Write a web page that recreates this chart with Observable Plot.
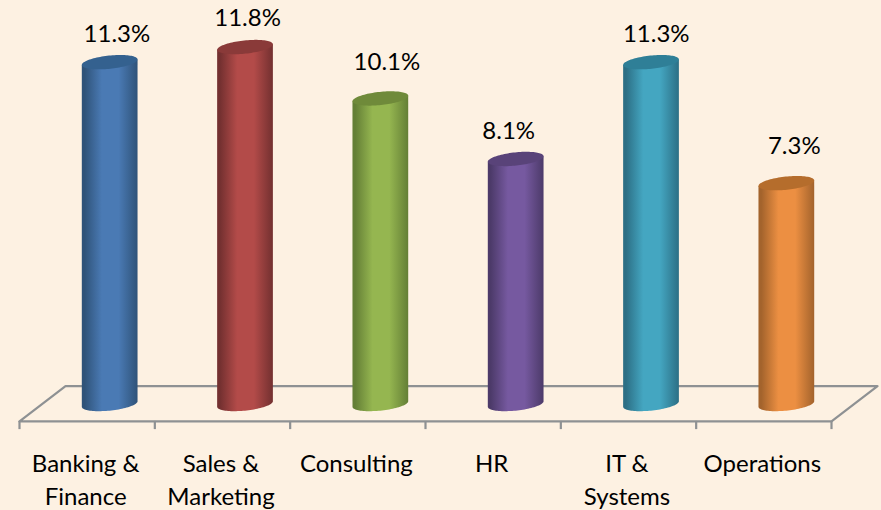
<!DOCTYPE html>
<html><head><meta charset="utf-8">
<script src="https://cdn.jsdelivr.net/npm/d3@7"></script>
<script src="https://cdn.jsdelivr.net/npm/@observablehq/plot@0.6"></script>
<style>html,body{margin:0;padding:0;background:#fdf1e2;overflow:hidden}svg{display:block}</style>
</head><body><div id="chart"></div>
<script>
const categories = ["Banking &\nFinance","Sales &\nMarketing","Consulting","HR","IT &\nSystems","Operations"];
const values = [11.3,11.8,10.1,8.1,11.3,7.3];
const valueLabels = ["11.3%","11.8%","10.1%","8.1%","11.3%","7.3%"];
const bodyColors = ["#4a7ab4","#b34b49","#95b650","#7659a0","#44a6c1","#ec8f42"];
const edgeColors = ["#2f5379","#733030","#647f36","#4c3a69","#2c6f85","#a3632c"];
const topColors = ["#34618f","#8a3a39","#6f8a3a","#594379","#2f7f97","#b56d2c"];

const rows = categories.map((c,i)=>({c,i,v:values[i],label:valueLabels[i]}));
const depth = 0.17, half = 0.207, floorBack = 0.61, floorFront = -0.56, floorTick = -0.83;
const labelDx = [0.05,0.015,0.045,-0.055,0.035,0.055];
const labelDy = [0.95,0.95,1.2,0.92,0.95,1.25];

function cylinders(I, scales, ch){
  const g = d3.create("svg:g");
  const defs = g.append("defs");
  const th = -6*Math.PI/180, ry = 6.6;
  for (const i of I){
    const x1 = ch.x1[i], x2 = ch.x2[i], yTop = ch.y2[i], yBase = ch.y1[i];
    const cx = (x1+x2)/2, rx = (x2-x1)/2;
    const pt = (cy,t)=>[cx+rx*Math.cos(t)*Math.cos(th)-ry*Math.sin(t)*Math.sin(th),
                        cy+rx*Math.cos(t)*Math.sin(th)+ry*Math.sin(t)*Math.cos(th)];
    const t0 = Math.atan2(-ry*Math.sin(th), rx*Math.cos(th)); // right-most point
    const id = "cyl"+i;
    const lg = defs.append("linearGradient").attr("id",id);
    [[0,edgeColors[i]],[0.05,edgeColors[i]],[0.36,bodyColors[i]],[0.66,bodyColors[i]],[1,edgeColors[i]]]
      .forEach(([o,c])=>lg.append("stop").attr("offset",o).attr("stop-color",c));
    const n = 48, front = [], ring = [];
    // lower half of the base ellipse, left to right
    for (let k=0;k<=n;k++) front.push(pt(yBase, t0+Math.PI-Math.PI*k/n));
    const left = pt(yTop,t0+Math.PI), right = pt(yTop,t0);
    const body = [left,...front,right];
    g.append("path").attr("fill",`url(#${id})`)
      .attr("d","M"+body.map(p=>p.join(",")).join("L")+"Z");
    for (let k=0;k<2*n;k++) ring.push(pt(yTop, Math.PI*k/n));
    g.append("path").attr("fill",topColors[i])
      .attr("d","M"+ring.map(p=>p.join(",")).join("L")+"Z");
  }
  return g.node();
}
const gray = "#8e9193";
const floor = [[0,floorFront],[6,floorFront],[6+2*depth,floorBack],[2*depth,floorBack],[0,floorFront]];
const plot = Plot.plot({
  width:881,height:510,margin:0,
  style:{background:"#fdf1e2",fontFamily:"Lato, Carlito, sans-serif"},
  x:{domain:[0,6],range:[19,831],axis:null},
  y:{domain:[-3.504,13.355],range:[510,0],axis:null},
  marks:[
    Plot.line(floor,{x:d=>d[0],y:d=>d[1],stroke:gray,strokeWidth:2.2}),
    Plot.ruleX(d3.range(7),{y1:floorFront,y2:floorTick,stroke:gray,strokeWidth:2.2}),
    Plot.rectY(rows,{x1:d=>d.i+0.5+depth-half,x2:d=>d.i+0.5+depth+half,y1:()=>0,y2:d=>d.v,render:cylinders}),
    Plot.text(rows,{x:d=>d.i+0.5+depth+labelDx[d.i],y:d=>d.v+labelDy[d.i],text:"label",fontSize:24,fill:"#000"}),
    Plot.text(rows,{x:d=>d.i+0.5,y:()=>floorTick,dx:-1.5,dy:19,text:"c",lineAnchor:"top",fontSize:24,lineHeight:1.38,fill:"#000"})
  ]
});
document.getElementById("chart").append(plot);
</script></body></html>
